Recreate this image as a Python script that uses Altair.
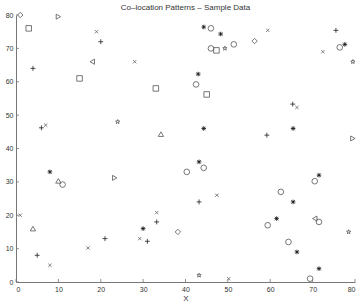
import math
import altair as alt
import pandas as pd

# ---- data ----
xs = [1, 3, 10, 19, 20, 18, 4, 15,
      44.3, 46, 48.3, 46, 47.3, 49.3, 51.4, 28, 43, 42.5, 33, 45,
      59.4, 56.3, 75.5, 76.4, 77.6, 72.4, 79.5, 65.3, 66.3,
      6, 7, 24, 8, 10, 11, 23.3,
      34.2, 44.3, 43.2, 44.3, 40.3, 43.2, 47.4,
      65.4, 59.2, 79.5, 71.5, 70.5, 62.5, 65.4,
      1, 4, 5, 8, 17, 21,
      33.2, 33.2, 30, 29.2, 31, 38.2, 43.2, 50.2,
      61.5, 59.4, 70.5, 71.5, 78.5, 64.3, 66.3, 71.5, 69.4]
ys = [80, 76, 79.5, 75, 72, 66, 64, 61,
      76.4, 76, 74.3, 70, 69.4, 70, 71.2, 66, 62.3, 59.2, 58, 56.2,
      75.4, 72.2, 75.4, 70.3, 71.2, 69, 66, 53.3, 52.3,
      46.2, 47, 48, 33, 30.3, 29.2, 31.2,
      44.3, 46, 36, 34.2, 33, 24, 26,
      46, 44, 43, 32, 30.2, 27, 24,
      20, 16, 8, 5, 10.2, 13,
      20.8, 18, 16, 13, 12.2, 15, 2, 1,
      19, 17, 19, 18, 15, 12, 9, 4, 1]
kinds = ["diamond", "square", "tri-right", "x", "plus", "tri-left", "plus", "square",
         "asterisk", "circle", "asterisk", "circle", "square", "star", "circle", "x", "asterisk", "circle", "square", "square",
         "x", "diamond", "plus", "circle", "asterisk", "x", "star", "plus", "x",
         "plus", "x", "star", "asterisk", "tri-up", "circle", "tri-right",
         "tri-up", "asterisk", "asterisk", "circle", "circle", "plus", "x",
         "asterisk", "plus", "tri-right", "asterisk", "circle", "circle", "asterisk",
         "x", "tri-up", "plus", "x", "x", "plus",
         "x", "plus", "asterisk", "x", "plus", "diamond", "star", "x",
         "asterisk", "circle", "tri-left", "circle", "star", "circle", "asterisk", "asterisk", "circle"]
tick_values = [0, 10, 20, 30, 40, 50, 60, 70, 80]

df = pd.DataFrame({"x": xs, "y": ys, "kind": kinds})

# ---- marker shapes ----
star_pts = []
for k in range(10):
    r = 1.0 if k % 2 == 0 else 0.4
    a = math.radians(-90 + 36 * k)
    star_pts.append(f"{r*math.cos(a):.3f},{r*math.sin(a):.3f}")
star_path = "M" + "L".join(star_pts) + "Z"
plus_path = "M-1,0H1M0,-1V1"
x_path = "M-0.7,-0.7L0.7,0.7M-0.7,0.7L0.7,-0.7"
ast_path = "M-1,0H1M0,-1V1M-0.75,-0.75L0.75,0.75M-0.75,0.75L0.75,-0.75"

shape_dom = ["circle", "square", "diamond", "tri-up", "tri-left", "tri-right", "plus", "x", "asterisk", "star"]
shape_rng = ["circle", "square", "diamond", "triangle-up", "triangle-left", "triangle-right",
             plus_path, x_path, ast_path, star_path]
size_rng = [32, 20, 34, 34, 34, 34, 36, 30, 26, 44]
sw_rng = [0.8, 0.8, 0.8, 0.8, 0.8, 0.8, 1.0, 0.8, 1.6, 0.8]
col_rng = ["#555", "#555", "#555", "#555", "#555", "#555", "#222", "#666", "#111", "#555"]

xscale = alt.Scale(domain=[0, 80], nice=False, zero=False)
yscale = alt.Scale(domain=[0, 80], nice=False, zero=False)
xaxis = alt.Axis(values=tick_values, ticks=False, grid=False, title="X", titleColor="#333333")
yaxis = alt.Axis(values=tick_values, ticks=False, grid=False, title=None)

points = alt.Chart(df).mark_point(filled=False, opacity=1).encode(
    x=alt.X("x:Q", scale=xscale, axis=xaxis),
    y=alt.Y("y:Q", scale=yscale, axis=yaxis),
    shape=alt.Shape("kind:N", scale=alt.Scale(domain=shape_dom, range=shape_rng), legend=None),
    size=alt.Size("kind:N", scale=alt.Scale(domain=shape_dom, range=size_rng), legend=None),
    strokeWidth=alt.StrokeWidth("kind:N", scale=alt.Scale(domain=shape_dom, range=sw_rng), legend=None),
    color=alt.Color("kind:N", scale=alt.Scale(domain=shape_dom, range=col_rng), legend=None),
)

tdf = pd.DataFrame({"v": tick_values})
xticks = alt.Chart(tdf).mark_rule(color="#777", strokeWidth=0.8).encode(
    x=alt.X("v:Q", scale=xscale, axis=xaxis), y=alt.value(267), y2=alt.value(264))
yticks = alt.Chart(tdf).mark_rule(color="#777", strokeWidth=0.8).encode(
    y=alt.Y("v:Q", scale=yscale, axis=yaxis), x=alt.value(0), x2=alt.value(3))

chart = alt.layer(points, xticks, yticks).properties(
    width=339, height=267,
    title=alt.TitleParams("Co\u2013location Patterns \u2013 Sample Data", fontSize=8,
                          fontWeight="normal", color="#333", font="Liberation Sans",
                          offset=-1, anchor="middle"),
    autosize=alt.AutoSizeParams(type="none"),
    padding={"left": 16, "top": 15, "right": 5, "bottom": 23},
).configure_view(stroke=None).configure_axis(
    labelPadding=3, domainColor="#777", labelFontSize=7, labelColor="#333",
    titleFontSize=8, titleFontWeight="normal", titleColor="#333", titlePadding=2,
    labelFont="Liberation Sans", titleFont="Liberation Sans",
)

chart.save("out.html", embed_options={"renderer": "svg", "actions": False})
